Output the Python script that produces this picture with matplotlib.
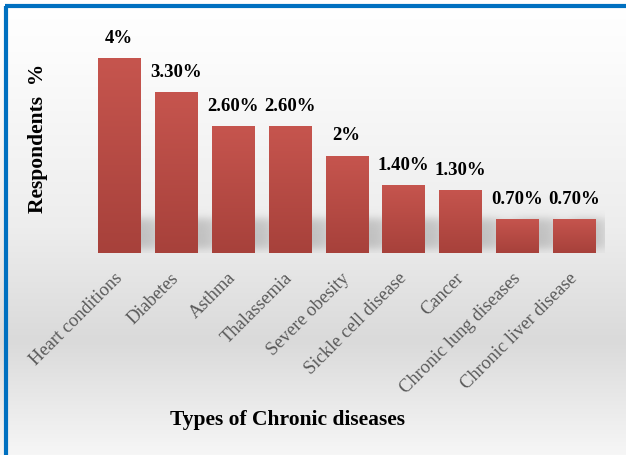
import numpy as np
import matplotlib
matplotlib.use("Agg")
import matplotlib.pyplot as plt
import matplotlib.transforms as mtransforms

categories = ["Heart conditions", "Diabetes", "Asthma", "Thalassemia", "Severe obesity",
              "Sickle cell disease", "Cancer", "Chronic lung diseases", "Chronic liver disease"]
values = [4.0, 3.3, 2.6, 2.6, 2.0, 1.4, 1.3, 0.7, 0.7]
labels = ["4%", "3.30%", "2.60%", "2.60%", "2%", "1.40%", "1.30%", "0.70%", "0.70%"]

W, H = 626, 455
fig = plt.figure(figsize=(W / 100, H / 100), dpi=100)

# background gradient
bg = fig.add_axes([0, 0, 1, 1], zorder=-10)
yy = np.linspace(0, 1, 256)  # 0 top -> 1 bottom
v = np.interp(yy, [0, 0.1, 0.5, 0.75, 1.0], [1.0, 0.99, 0.93, 0.855, 0.965])
g = v[:, None] * np.ones((1, 4))
bg.imshow(np.dstack([g, g, g]), aspect="auto", extent=[0, 1, 1, 0])
bg.set_xlim(0, 1); bg.set_ylim(1, 0)
bg.axis("off")
bg.plot([0.0095, 0.0095], [0.013, 1.0], color="#0070C0", lw=3, solid_capstyle="butt")
bg.plot([0.008, 1.0], [0.0135, 0.0135], color="#0070C0", lw=3, solid_capstyle="butt")

# main axes
left_px, right_px = 90, 605
bottom_px, top_px = 253, 38.5
ax = fig.add_axes([left_px / W, 1 - bottom_px / H, (right_px - left_px) / W, (bottom_px - top_px) / H])
ax.set_facecolor("none")
x = np.arange(len(categories))
XL = (-0.51, 8.54)
YL = (0, 4.4)
bw = 0.74

# soft shadows cast to the right of each bar (blurred)
nx, ny = 600, 200
gx = np.linspace(XL[0], XL[1], nx)
gy = np.linspace(0, 1.2, ny)
GX, GY = np.meshgrid(gx, gy)
mask = np.zeros_like(GX)
for xi, val in zip(x, values):
    hh = min(val, 0.7)
    m = (GX > xi - bw / 2 + 0.3) & (GX < xi + bw / 2 + 0.35) & (GY > 0.08) & (GY < hh)
    mask = np.maximum(mask, m.astype(float))
def blur(a, sx, sy):
    kx = np.exp(-0.5 * (np.arange(-3 * sx, 3 * sx + 1) / sx) ** 2); kx /= kx.sum()
    ky = np.exp(-0.5 * (np.arange(-3 * sy, 3 * sy + 1) / sy) ** 2); ky /= ky.sum()
    a = np.apply_along_axis(lambda r: np.convolve(r, kx, mode="same"), 1, a)
    a = np.apply_along_axis(lambda c: np.convolve(c, ky, mode="same"), 0, a)
    return a
mask = blur(mask, 10, 14)
sh = np.zeros((ny, nx, 4))
sh[..., :3] = 0.4
sh[..., 3] = 0.32 * mask
ax.imshow(sh, aspect="auto", extent=[XL[0], XL[1], 0, 1.2], origin="lower", zorder=0,
          interpolation="bilinear")

bars = ax.bar(x, values, width=bw, color="#BE4B48", zorder=2, linewidth=0)
grad = np.linspace(0, 1, 100)[:, None]
top_c = np.array([0.776, 0.333, 0.306])
bot_c = np.array([0.655, 0.255, 0.231])
gimg = (top_c[None, None, :] * (1 - grad[..., None]) + bot_c[None, None, :] * grad[..., None])
gimg = np.repeat(gimg, 2, axis=1)
for b in bars:
    x0, w, h = b.get_x(), b.get_width(), b.get_height()
    im = ax.imshow(gimg, aspect="auto", extent=[x0, x0 + w, 0, h], zorder=3, interpolation="bilinear")
    im.set_clip_path(b)

for xi, val, lab in zip(x, values, labels):
    ax.annotate(lab, (xi, val), xytext=(0, 8), textcoords="offset points", ha="center", va="bottom",
                fontsize=13.5, fontweight="bold", family="Liberation Serif", color="black",
                annotation_clip=False)
ax.set_ylim(*YL)
ax.set_xlim(*XL)

ax.set_xticks(x)
ax.set_xticklabels(categories, rotation=45, ha="right", rotation_mode="anchor",
                   fontsize=13.3, family="Liberation Serif", color="#595959")
ax.tick_params(axis="x", length=0, pad=12)
shift = mtransforms.ScaledTranslation(-4 / 72, 0, fig.dpi_scale_trans)
for t in ax.get_xticklabels():
    t.set_transform(t.get_transform() + shift)
ax.set_yticks([])
for s in ax.spines.values():
    s.set_visible(False)

fig.text(38 / W, 1 - 138 / H, "Respondents  %", rotation=90, ha="center", va="center",
         fontsize=15.5, fontweight="bold", family="Liberation Serif")
fig.text(288 / W, 1 - 420 / H, "Types of Chronic diseases", ha="center", va="center",
         fontsize=15.5, fontweight="bold", family="Liberation Serif")

fig.savefig("out.png", dpi=100)
